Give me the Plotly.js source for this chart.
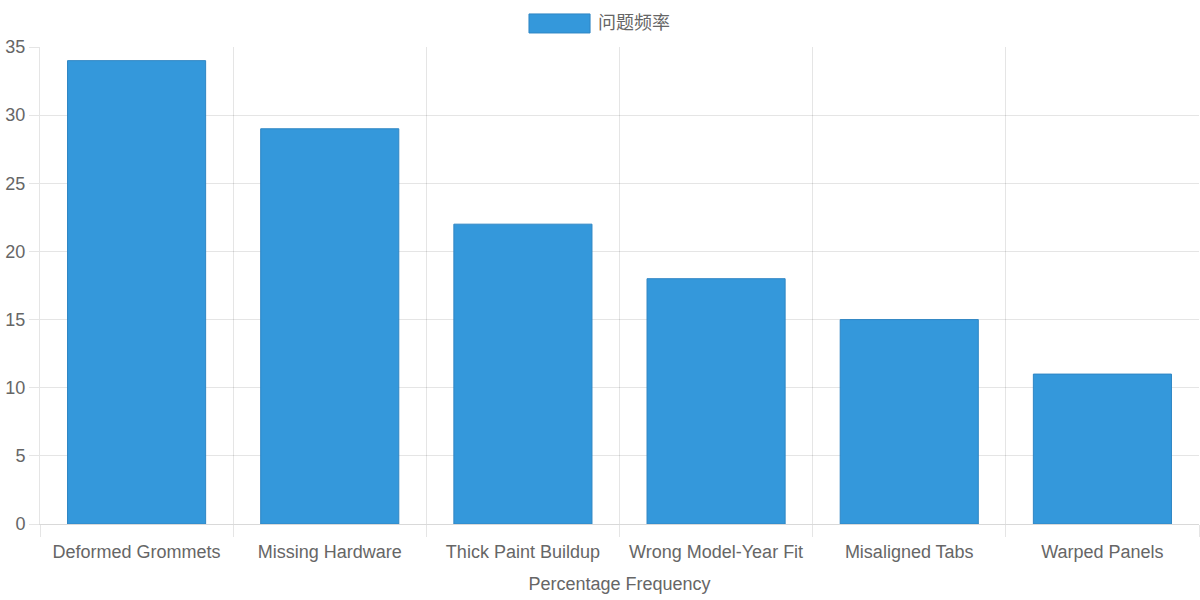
<!DOCTYPE html>
<html>
<head>
<meta charset="utf-8">
<script src="https://cdn.plot.ly/plotly-3.0.1.min.js"></script>
<style>html,body{margin:0;padding:0;background:#fff;}#chart{width:1200px;height:600px;}</style>
</head>
<body>
<div id="chart"></div>
<script>
const categories = ["Deformed Grommets", "Missing Hardware", "Thick Paint Buildup", "Wrong Model-Year Fit", "Misaligned Tabs", "Warped Panels"];
const frequency = [34, 29, 22, 18, 15, 11];
const seriesName = "问题频率";
const xTitle = "Percentage Frequency";

const fontFam = '"Liberation Sans", Arial, "Noto Sans CJK SC", sans-serif';
const grid = 'rgba(0,0,0,0.1)';

const trace = {
  type: 'bar',
  x: categories,
  y: frequency,
  name: seriesName,
  marker: {color: '#3498db', line: {color: '#2f86c4', width: 1}},
  hoverinfo: 'x+y'
};

const layout = {
  width: 1200, height: 600,
  margin: {l: 40, r: 1, t: 47, b: 76},
  paper_bgcolor: '#fff', plot_bgcolor: '#fff',
  showlegend: false,
  bargap: 0.285,
  font: {family: fontFam, size: 18, color: '#666'},
  xaxis: {
    type: 'category',
    tickson: 'boundaries',
    showgrid: true, gridcolor: grid, gridwidth: 1,
    ticks: 'outside', ticklen: 12, tickcolor: grid,
    ticklabelstandoff: 11,
    showline: true, linecolor: 'rgba(0,0,0,0.15)',
    tickfont: {size: 18, color: '#666'},
    title: {text: xTitle, font: {size: 18, color: '#666'}, standoff: 16},
    zeroline: false
  },
  yaxis: {
    range: [0, 35], dtick: 5,
    showgrid: true, gridcolor: grid, gridwidth: 1,
    ticks: 'outside', ticklen: 10, tickcolor: grid,
    showline: true, linecolor: grid,
    zeroline: false,
    tickfont: {size: 18, color: '#666'}
  },
  shapes: [{
    type: 'rect', xref: 'paper', yref: 'paper',
    x0: 0.4219, x1: 0.4746, y0: 1.0294, y1: 1.0693,
    fillcolor: '#3498db', line: {color: '#2f86c4', width: 1}
  }],
  annotations: [{
    xref: 'paper', yref: 'paper', x: 0.4798, y: 1.0494,
    xanchor: 'left', yanchor: 'middle', showarrow: false,
    text: seriesName, font: {size: 18, color: '#666', family: fontFam}
  }]
};

Plotly.newPlot('chart', [trace], layout, {displayModeBar: false, staticPlot: true});
</script>
</body>
</html>
